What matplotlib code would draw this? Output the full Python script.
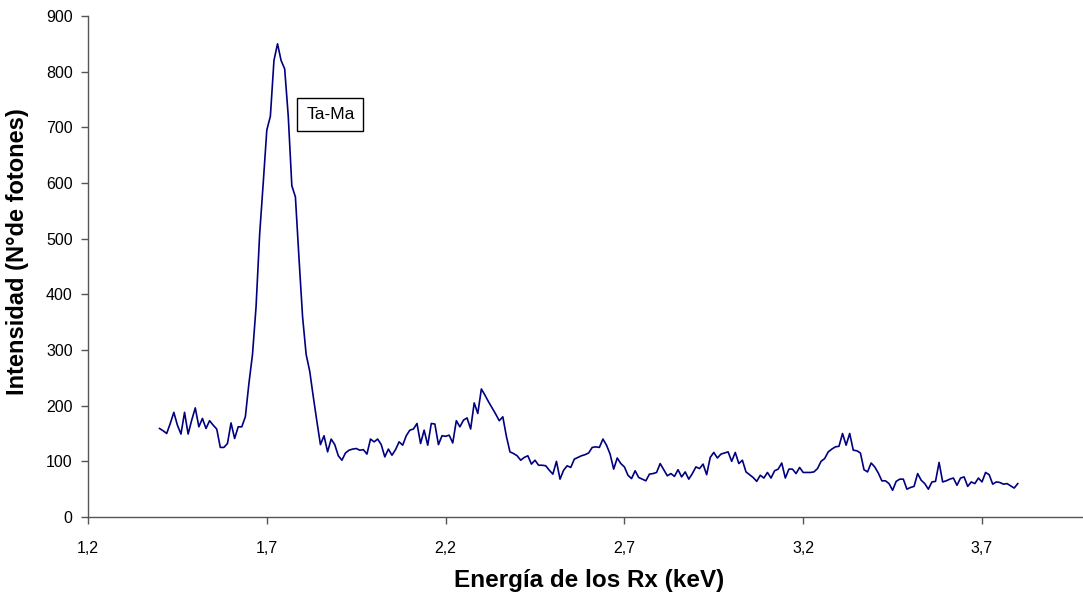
import matplotlib.pyplot as plt
import numpy as np

plt.rcParams['font.family'] = ['Liberation Sans', 'DejaVu Sans']

# Spectrum: energy (keV) from 1.40 to 3.80 in 0.01 steps
energy_start = 1.40
energy_step = 0.01
counts = [
    159, 155, 150, 168, 188, 165, 149, 188, 149, 174,
    196, 162, 177, 159, 173, 165, 158, 125, 125, 132,
    169, 141, 162, 162, 180, 240, 292, 378, 508, 600,
    695, 720, 820, 850, 820, 805, 720, 595, 575, 465,
    360, 292, 262, 216, 172, 130, 146, 117, 140, 130,
    110, 102, 115, 120, 122, 123, 120, 121, 113, 140,
    135, 140, 130, 108, 122, 111, 121, 135, 129, 146,
    156, 158, 168, 132, 156, 129, 168, 167, 130, 146,
    145, 147, 133, 173, 162, 174, 178, 158, 205, 186,
    230, 219, 207, 196, 185, 173, 180, 145, 117, 114,
    110, 102, 107, 110, 95, 102, 93, 93, 92, 84,
    77, 100, 68, 84, 92, 89, 104, 107, 110, 112,
    115, 125, 126, 125, 140, 129, 113, 86, 106, 96,
    90, 75, 69, 83, 71, 68, 65, 77, 78, 80,
    96, 85, 74, 78, 73, 85, 72, 81, 68, 78,
    90, 87, 95, 76, 107, 116, 106, 113, 115, 117,
    100, 116, 96, 102, 81, 76, 71, 64, 75, 70,
    80, 70, 83, 86, 97, 70, 86, 86, 78, 89,
    80, 80, 80, 81, 87, 100, 105, 117, 122, 126,
    127, 150, 129, 150, 120, 119, 115, 85, 81, 97,
    90, 79, 65, 65, 60, 48, 64, 68, 68, 50,
    53, 55, 78, 66, 60, 50, 63, 64, 98, 63,
    65, 68, 70, 57, 70, 72, 55, 63, 60, 70,
    63, 80, 76, 59, 63, 62, 59, 60, 56, 52,
    60,
]
energy = energy_start + energy_step * np.arange(len(counts))

x_ticks = [1.2, 1.7, 2.2, 2.7, 3.2, 3.7]
x_ticklabels = ['1,2', '1,7', '2,2', '2,7', '3,2', '3,7']
y_ticks = list(range(0, 901, 100))

peak_label = 'Ta-Ma'
peak_label_pos = (1.81, 723)

fig = plt.figure(figsize=(10.83, 6.01), dpi=100)
ax = fig.add_axes([88 / 1083, 84 / 601, 994 / 1083, 501 / 601])

ax.plot(energy, counts, color='#000080', linewidth=1.2, solid_joinstyle='round')

ax.set_xlim(1.2, 1.2 + 994 / 357.6)
ax.set_ylim(0, 900)
ax.set_xticks(x_ticks)
ax.set_xticklabels(x_ticklabels)
ax.set_yticks(y_ticks)

for side in ['top', 'right']:
    ax.spines[side].set_visible(False)
for side in ['left', 'bottom']:
    ax.spines[side].set_color('#555555')
    ax.spines[side].set_linewidth(1.0)
ax.tick_params(axis='both', direction='out', length=5, width=1, color='#555555',
               labelsize=11.5, labelcolor='black')
ax.tick_params(axis='x', pad=12)
ax.tick_params(axis='y', pad=6)

ax.set_xlabel('Energía de los Rx (keV)', fontsize=17.5, fontweight='bold', va='center')
ax.xaxis.set_label_coords(0.504, -63 / 501)
ax.set_ylabel('Intensidad (N°de fotones)', fontsize=17, fontweight='bold', va='center')
ax.yaxis.set_label_coords(-70 / 994, 0.53)

ax.text(peak_label_pos[0], peak_label_pos[1], peak_label, fontsize=12.5, ha='left', va='center',
        bbox=dict(boxstyle='square,pad=0.5', facecolor='white', edgecolor='black', linewidth=1))

fig.savefig('out.png', dpi=100)
